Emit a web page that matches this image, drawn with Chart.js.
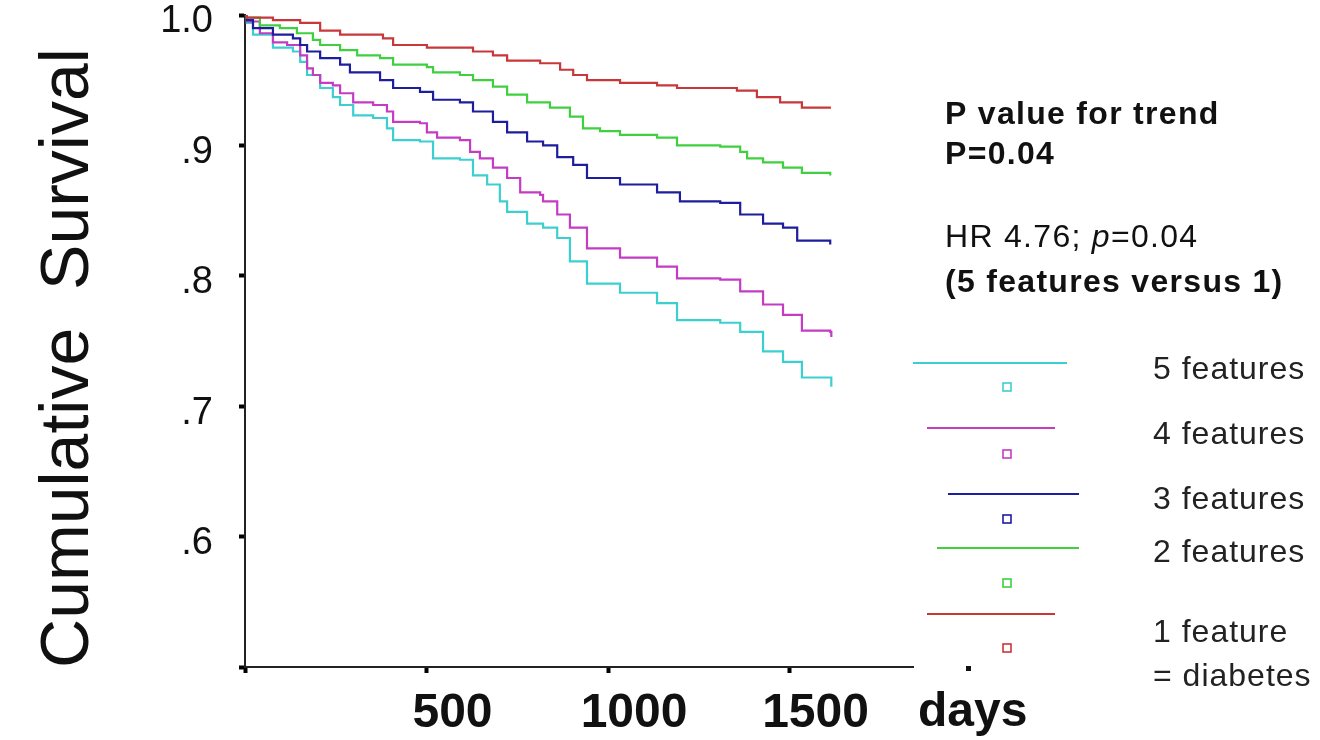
<!DOCTYPE html>
<html>
<head>
<meta charset="utf-8">
<script src="https://cdn.jsdelivr.net/npm/chart.js@4.4.1/dist/chart.umd.min.js"></script>
<style>
  html, body { margin: 0; padding: 0; background: #fff; }
  #wrap { width: 1320px; height: 740px; }
</style>
</head>
<body>
<div id="wrap"><canvas id="km" width="1320" height="740"></canvas></div>
<script>
// axis ticks
const yTicks = [0.5, 0.6, 0.7, 0.8, 0.9, 1.0];
const yTickLabels = ['', '.6', '.7', '.8', '.9', '1.0'];
const xTicks = [0, 500, 1000, 1500];
const xTickLabels = ['', '500', '1000', '1500'];

const seriesLabels = ['1 feature', '2 features', '3 features', '4 features', '5 features'];
const seriesColors = ['#c8383a', '#3fcf3f', '#1d1d9e', '#c43cc4', '#3ccfcf'];

// Kaplan-Meier curves (days, cumulative survival)
const days1 = [0, 5, 77, 152, 207, 262, 380, 408, 501, 628, 683, 722, 813, 868, 904, 942, 1033, 1135, 1190, 1355, 1410, 1474, 1534, 1614];
const surv1 = [1, .998, .996, .994, .988, .985, .982, .977, .975, .972, .969, .965, .963, .958, .954, .950, .948, .946, .944, .942, .937, .933, .929, .929];

const days2 = [0, 5, 41, 96, 143, 187, 207, 262, 309, 372, 408, 501, 518, 592, 628, 683, 722, 777, 840, 895, 931, 978, 1033, 1135, 1190, 1309, 1364, 1383, 1427, 1482, 1534, 1612];
const surv2 = [1, .998, .992, .990, .986, .981, .977, .973, .969, .967, .962, .960, .956, .954, .950, .945, .939, .933, .929, .922, .913, .911, .908, .906, .900, .899, .895, .890, .887, .883, .879, .877];

const days3 = [0, 5, 22, 77, 132, 152, 171, 207, 262, 289, 372, 408, 482, 518, 592, 628, 683, 722, 777, 821, 860, 904, 942, 1033, 1135, 1198, 1309, 1364, 1427, 1482, 1521, 1612];
const surv3 = [1, .996, .990, .985, .982, .977, .972, .967, .962, .956, .950, .944, .941, .935, .933, .926, .918, .910, .903, .900, .891, .885, .875, .870, .864, .857, .856, .847, .840, .837, .827, .824];

const days4 = [0, 5, 41, 77, 116, 152, 171, 187, 207, 242, 262, 298, 353, 391, 408, 482, 501, 529, 592, 620, 647, 683, 722, 758, 813, 821, 860, 895, 942, 1033, 1135, 1190, 1309, 1364, 1427, 1482, 1534, 1612, 1615];
const surv4 = [1, .995, .986, .979, .977, .969, .959, .954, .948, .946, .940, .933, .931, .926, .918, .917, .910, .906, .904, .895, .890, .883, .875, .864, .862, .857, .847, .837, .821, .814, .807, .798, .797, .788, .778, .770, .758, .757, .753];

const days5 = [0, 5, 22, 77, 132, 152, 171, 207, 242, 262, 298, 353, 391, 408, 482, 518, 592, 628, 667, 702, 722, 777, 821, 860, 895, 942, 1033, 1135, 1190, 1309, 1364, 1427, 1482, 1534, 1612, 1615];
const surv5 = [1, .994, .985, .975, .972, .964, .954, .944, .937, .931, .923, .921, .913, .904, .903, .890, .889, .877, .870, .857, .849, .840, .837, .829, .811, .794, .787, .779, .766, .764, .757, .742, .734, .722, .722, .715];

const allDays = [days1, days2, days3, days4, days5];
const allSurv = [surv1, surv2, surv3, surv4, surv5];

const fontFam = "'Liberation Sans', Arial, Helvetica, sans-serif";

// legend rows, top to bottom (dataset index + placement)
const legendRows = [
    { ds: 4, x1: 913, x2: 1067, ly: 363, sy: 387, ty: 370 },
    { ds: 3, x1: 927, x2: 1055, ly: 428, sy: 454, ty: 435 },
    { ds: 2, x1: 948, x2: 1079, ly: 494, sy: 519, ty: 500 },
    { ds: 1, x1: 937, x2: 1079, ly: 548, sy: 583, ty: 553 },
    { ds: 0, x1: 927, x2: 1055, ly: 614, sy: 648, ty: 633 }
];

const annotate = {
    id: 'annotate',
    afterDraw(chart) {
        const ctx = chart.ctx;

        // y axis title
        ctx.save();
        ctx.fillStyle = '#111';
        ctx.font = '68px ' + fontFam;
        ctx.translate(88, 358);
        ctx.rotate(-Math.PI / 2);
        ctx.textAlign = 'center';
        ctx.textBaseline = 'alphabetic';
        ctx.fillText('Cumulative  Survival', 0, 0);
        ctx.restore();

        ctx.save();
        ctx.fillStyle = '#111';
        ctx.textAlign = 'left';
        ctx.textBaseline = 'middle';

        // x axis unit
        ctx.font = 'bold 48px ' + fontFam;
        ctx.fillText('days', 918, 713);
        ctx.fillRect(966, 666, 5, 5);

        // statistics
        ctx.letterSpacing = '1.3px';
        ctx.font = 'bold 32px ' + fontFam;
        ctx.fillText('P value for trend', 945, 115);
        ctx.fillText('P=0.04', 945, 155);
        ctx.fillText('(5 features versus 1)', 945, 283);

        let x = 945;
        ctx.font = '32px ' + fontFam;
        ctx.fillText('HR 4.76; ', x, 238);
        x += ctx.measureText('HR 4.76; ').width;
        ctx.font = 'italic 32px ' + fontFam;
        ctx.fillText('p', x, 238);
        x += ctx.measureText('p').width;
        ctx.font = '32px ' + fontFam;
        ctx.fillText('=0.04', x, 238);

        // legend
        ctx.letterSpacing = '1px';
        ctx.font = '32px ' + fontFam;
        legendRows.forEach(row => {
            const ds = chart.data.datasets[row.ds];
            ctx.strokeStyle = ds.borderColor;
            ctx.lineWidth = 2;
            ctx.beginPath();
            ctx.moveTo(row.x1, row.ly);
            ctx.lineTo(row.x2, row.ly);
            ctx.stroke();
            ctx.lineWidth = 1.6;
            ctx.strokeRect(1003, row.sy - 4, 8, 8);
            ctx.fillStyle = '#222';
            ctx.fillText(ds.label, 1153, row.ty);
        });
        ctx.fillText('= diabetes', 1153, 677);
        ctx.restore();
    }
};

const datasets = seriesLabels.map((label, i) => ({
    label: label,
    data: allDays[i].map((d, j) => ({ x: d, y: allSurv[i][j] })),
    borderColor: seriesColors[i],
    borderWidth: 2.2,
    pointRadius: 0,
    stepped: true,
    fill: false
}));

new Chart(document.getElementById('km'), {
    type: 'line',
    data: { datasets },
    plugins: [annotate],
    options: {
        responsive: false,
        animation: false,
        layout: { padding: { top: 15, right: 407, bottom: 0, left: 0 } },
        plugins: { legend: { display: false }, tooltip: { enabled: false } },
        scales: {
            x: {
                type: 'linear',
                min: 0,
                max: 1840,
                afterBuildTicks: scale => { scale.ticks = xTicks.map(v => ({ value: v })); },
                afterFit: scale => { scale.height = 73; scale.paddingLeft = 0; scale.paddingRight = 0; },
                ticks: {
                    callback: (v, i) => xTickLabels[i],
                    font: { family: fontFam, size: 48, weight: 'bold' },
                    color: '#111',
                    padding: 12,
                    labelOffset: 26,
                    maxRotation: 0
                },
                grid: { drawOnChartArea: false, drawTicks: true, tickLength: 6, tickWidth: 4, tickColor: '#000' },
                border: { display: true, color: '#222', width: 2 }
            },
            y: {
                type: 'linear',
                min: 0.5,
                max: 1.0,
                afterBuildTicks: scale => { scale.ticks = yTicks.map(v => ({ value: v })); },
                afterFit: scale => { scale.width = 245; scale.paddingTop = 0; scale.paddingBottom = 0; },
                ticks: {
                    callback: (v, i) => yTickLabels[i],
                    font: { family: fontFam, size: 38 },
                    color: '#111',
                    padding: 26,
                    labelOffset: 7
                },
                grid: { drawOnChartArea: false, drawTicks: true, tickLength: 6, tickWidth: 4, tickColor: '#000' },
                border: { display: true, color: '#222', width: 2 }
            }
        }
    }
});
</script>
</body>
</html>
